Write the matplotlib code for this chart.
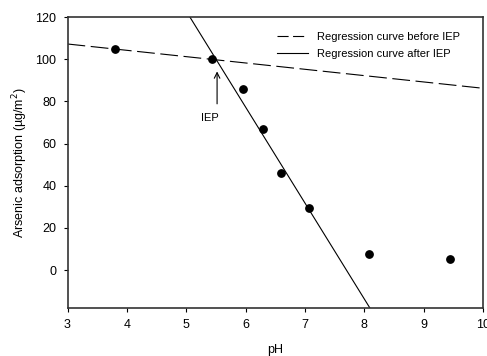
import numpy as np
import matplotlib
matplotlib.use("Agg")
import matplotlib.pyplot as plt
from matplotlib.lines import Line2D

plt.rcParams["font.family"] = ["Liberation Sans", "DejaVu Sans"]

# 實測資料點
ph = [3.80, 5.43, 5.95, 6.29, 6.59, 7.07, 8.08, 9.44]
adsorption = [104.8, 100.0, 85.7, 66.7, 46.2, 29.6, 7.7, 5.2]

# 迴歸線係數 (y = a + b * pH)
before_iep = (116.2, -3.0)
after_iep = (350.3, -45.5)

x_ticks = [3, 4, 5, 6, 7, 8, 9, 10]
y_ticks = [0, 20, 40, 60, 80, 100, 120]

fig = plt.figure(figsize=(4.87, 3.56), dpi=100)
ax = fig.add_axes([67.5 / 487, 1 - 308 / 356, (483 - 67.5) / 487, (308 - 17) / 356])

xs = np.array([3.0, 10.0])
ax.plot(xs, before_iep[0] + before_iep[1] * xs, color="black", lw=0.8,
        dashes=(16, 5))
ax.plot(xs, after_iep[0] + after_iep[1] * xs, color="black", lw=0.8)
ax.scatter(ph, adsorption, s=28, color="black", zorder=5)

ax.annotate("", xy=(5.52, 95.5), xytext=(5.52, 77.5),
            arrowprops=dict(arrowstyle="->", color="black", lw=0.8))
ax.text(5.40, 72, "IEP", ha="center", va="center", fontsize=8)

ax.set_xlim(3, 10)
ax.set_ylim(-18, 120)
ax.set_xticks(x_ticks)
ax.set_yticks(y_ticks)
ax.tick_params(direction="out", length=3, width=0.8, labelsize=9, pad=5,
               top=False, right=False)
for s in ax.spines.values():
    s.set_linewidth(1.2)
    s.set_color("#333333")

ax.set_xlabel("pH", fontsize=9, labelpad=9)
ax.set_ylabel("Arsenic adsorption (\u00b5g/m$^2$)", fontsize=9, labelpad=4)

# 圖例用較短的虛線
handles = [
    Line2D([], [], color="black", lw=0.8, dashes=(10, 4)),
    Line2D([], [], color="black", lw=0.8),
]
labels = ["Regression curve before IEP", "Regression curve after IEP"]
ax.legend(handles, labels, loc="upper left", bbox_to_anchor=(0.504, 0.948),
          fontsize=8, frameon=False, handlelength=2.8, handletextpad=0.8,
          labelspacing=0.6, borderpad=0, borderaxespad=0)

fig.savefig("out.png", dpi=100)
